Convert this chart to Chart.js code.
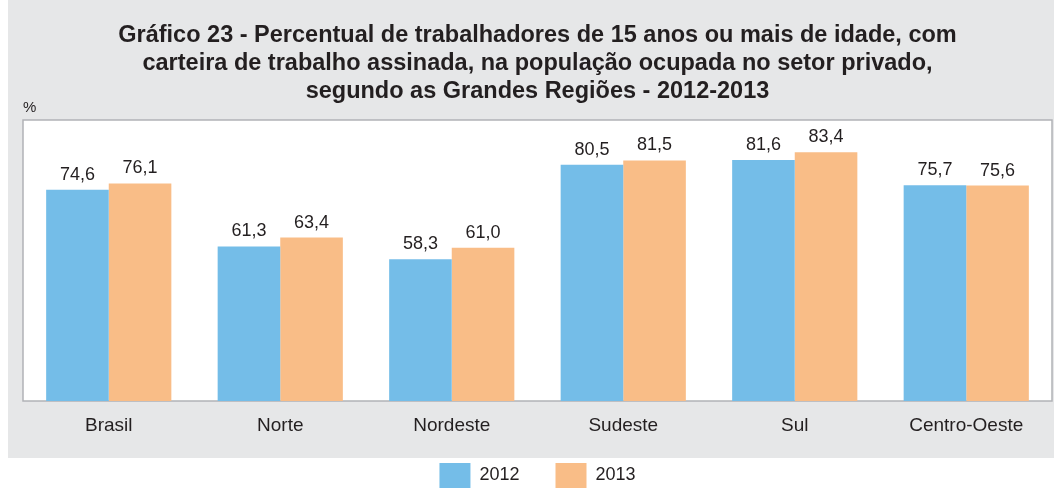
<!DOCTYPE html>
<html>
<head>
<meta charset="utf-8">
<script src="https://cdn.jsdelivr.net/npm/chart.js@4.4.1/dist/chart.umd.min.js"></script>
<style>
  html, body { margin: 0; padding: 0; background: #ffffff; }
  #c { display: block; }
</style>
</head>
<body>
<canvas id="c" width="1054" height="488"></canvas>
<script>
const categories = ['Brasil', 'Norte', 'Nordeste', 'Sudeste', 'Sul', 'Centro-Oeste'];
const values2012 = [74.6, 61.3, 58.3, 80.5, 81.6, 75.7];
const values2013 = [76.1, 63.4, 61.0, 81.5, 83.4, 75.6];
const seriesLabels = ['2012', '2013'];
const titleLines = [
  'Gráfico 23 - Percentual de trabalhadores de 15 anos ou mais de idade, com',
  'carteira de trabalho assinada, na população ocupada no setor privado,',
  'segundo as Grandes Regiões - 2012-2013'
];
const unitLabel = '%';

const TEXT = '#231f20';
const FONT = '"Liberation Sans", Arial, sans-serif';
Chart.defaults.font.family = FONT;
Chart.defaults.color = TEXT;

const backgroundPlugin = {
  id: 'bgPanel',
  beforeDraw(chart) {
    const {ctx, width, height, chartArea: a} = chart;
    ctx.save();
    ctx.fillStyle = '#ffffff';
    ctx.fillRect(0, 0, width, height);
    ctx.fillStyle = '#e6e7e8';
    ctx.fillRect(8, 0, width - 8, 458);
    ctx.fillStyle = '#ffffff';
    ctx.fillRect(a.left, a.top, a.right - a.left, a.bottom - a.top);
    ctx.strokeStyle = '#b1b3b6';
    ctx.lineWidth = 1.5;
    ctx.strokeRect(a.left, a.top, a.right - a.left, a.bottom - a.top);
    ctx.restore();
  }
};

const legendShift = {
  id: 'legendShift',
  afterLayout(chart) {
    const l = chart.legend;
    if (!l) return;
    l.top = 463 - l.options.labels.padding;
    l.bottom = chart.height;
    l.height = l.bottom - l.top;
  }
};

const valueLabels = {
  id: 'valueLabels',
  afterDatasetsDraw(chart) {
    const {ctx} = chart;
    ctx.save();
    ctx.font = '18px ' + FONT;
    ctx.fillStyle = TEXT;
    ctx.textAlign = 'center';
    ctx.textBaseline = 'alphabetic';
    chart.data.datasets.forEach((ds, i) => {
      chart.getDatasetMeta(i).data.forEach((bar, j) => {
        const v = ds.data[j];
        ctx.fillText(v.toFixed(1).replace('.', ','), bar.x, bar.y - 10);
      });
    });
    ctx.restore();
  }
};

new Chart(document.getElementById('c'), {
  type: 'bar',
  data: {
    labels: categories,
    datasets: [
      { label: seriesLabels[0], data: values2012, backgroundColor: '#74bde8', borderWidth: 0 },
      { label: seriesLabels[1], data: values2013, backgroundColor: '#f9bd87', borderWidth: 0 }
    ]
  },
  options: {
    responsive: false,
    animation: false,
    layout: { padding: { left: 23, right: 2, top: 0, bottom: 0 } },
    datasets: { bar: { categoryPercentage: 0.73, barPercentage: 1.0 } },
    scales: {
      x: {
        grid: { display: false, drawTicks: false },
        border: { display: false },
        ticks: { color: TEXT, font: { size: 19 }, padding: 13, maxRotation: 0 }
      },
      y: {
        display: false,
        min: 25,
        max: 91,
        grid: { display: false }
      }
    },
    plugins: {
      title: {
        display: true,
        text: titleLines,
        color: TEXT,
        font: { size: 23.5, weight: 'bold', lineHeight: 28 / 23.5 },
        padding: { top: 22, bottom: 0 }
      },
      subtitle: {
        display: true,
        text: unitLabel,
        align: 'start',
        color: TEXT,
        font: { size: 15, lineHeight: 1.2 },
        padding: { top: -7, bottom: 3 }
      },
      legend: {
        position: 'bottom',
        maxHeight: 38.2,
        labels: {
          boxWidth: 31,
          boxHeight: 25,
          padding: 36,
          color: TEXT,
          font: { size: 18 }
        }
      },
      tooltip: { enabled: false }
    }
  },
  plugins: [backgroundPlugin, legendShift, valueLabels]
});
</script>
</body>
</html>
